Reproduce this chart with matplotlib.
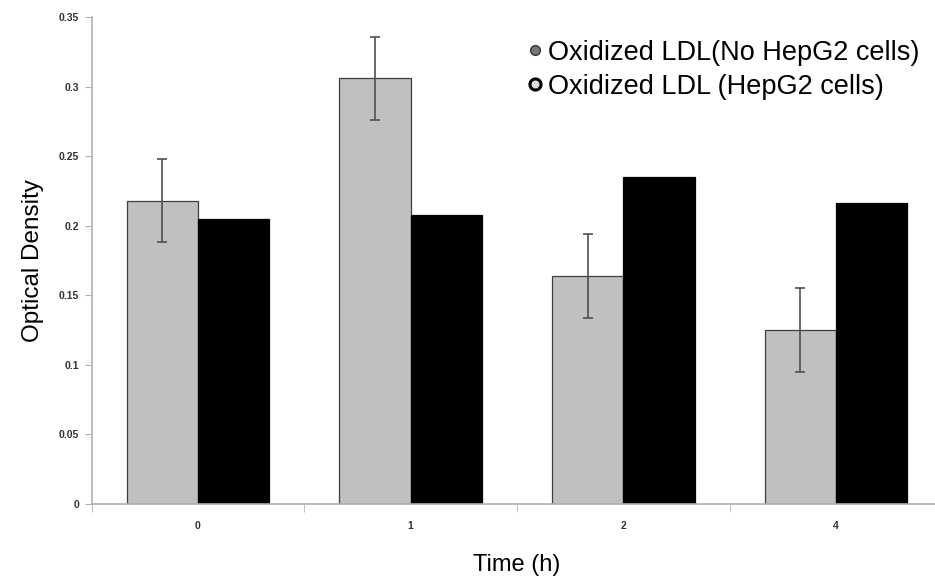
import numpy as np
import matplotlib
matplotlib.use('Agg')
import matplotlib.pyplot as plt
from matplotlib.lines import Line2D

plt.rcParams['font.family'] = ['Liberation Sans', 'DejaVu Sans']

times = ['0', '1', '2', '4']
no_hepg2 = [0.218, 0.306, 0.164, 0.125]
no_hepg2_err = [0.030, 0.030, 0.030, 0.030]
hepg2 = [0.205, 0.208, 0.235, 0.216]
series_labels = ['Oxidized LDL(No HepG2 cells)', 'Oxidized LDL (HepG2 cells)']

fig = plt.figure(figsize=(9.35, 5.77), dpi=100)
ax = fig.add_axes([0.098, 0.1265, 0.91, 0.844])

x = np.arange(len(times))
w = 0.335
ax.bar(x - w / 2, no_hepg2, w, color='#c0c0c0', edgecolor='#404040', linewidth=0.9)
ax.errorbar(x - w / 2, no_hepg2, yerr=no_hepg2_err, fmt='none', ecolor='#505050',
            elinewidth=1.2, capsize=3.3, capthick=1.2)
ax.bar(x + w / 2, hepg2, w, color='black', edgecolor='black', linewidth=0.9)

ax.set_xlim(-0.5, 3.5)
ax.set_ylim(0, 0.35)
ax.set_yticks(np.arange(0, 0.351, 0.05))
ax.set_yticklabels(['0', '0.05', '0.1', '0.15', '0.2', '0.25', '0.3', '0.35'])
ax.set_xticks(x)
ax.set_xticklabels(times)
ax.set_xticks(np.arange(-0.5, 3.6, 1), minor=True)
ax.tick_params(axis='x', which='major', length=0, pad=12, labelsize=7.5, labelcolor='#333333')
ax.tick_params(axis='x', which='minor', length=6, color='#b0b0b0', direction='out')
ax.tick_params(axis='y', length=5, color='#b0b0b0', direction='out', labelsize=7.5,
               labelcolor='#333333', pad=4)
for lab in ax.get_xticklabels() + ax.get_yticklabels():
    lab.set_fontweight('bold')

for s in ['top', 'right']:
    ax.spines[s].set_visible(False)
for s in ['left', 'bottom']:
    ax.spines[s].set_color('#b0b0b0')
    ax.spines[s].set_linewidth(1.2)

ax.set_ylabel('Optical Density', fontsize=17.5, labelpad=11)
ax.set_xlabel('Time (h)', fontsize=17, labelpad=17)

handles = [
    Line2D([], [], marker='o', linestyle='none', markersize=7,
           markerfacecolor='#777777', markeredgecolor='#333333'),
    Line2D([], [], marker='o', linestyle='none', markersize=8,
           markerfacecolor='#dddddd', markeredgecolor='black', markeredgewidth=2.2),
]
fig.legend(handles, series_labels, loc='upper left', bbox_to_anchor=(0.553, 0.95),
           frameon=False, fontsize=19.5, handlelength=0.5, handletextpad=0.25,
           labelspacing=0.3, borderaxespad=0)

fig.savefig('out.png', dpi=100)
